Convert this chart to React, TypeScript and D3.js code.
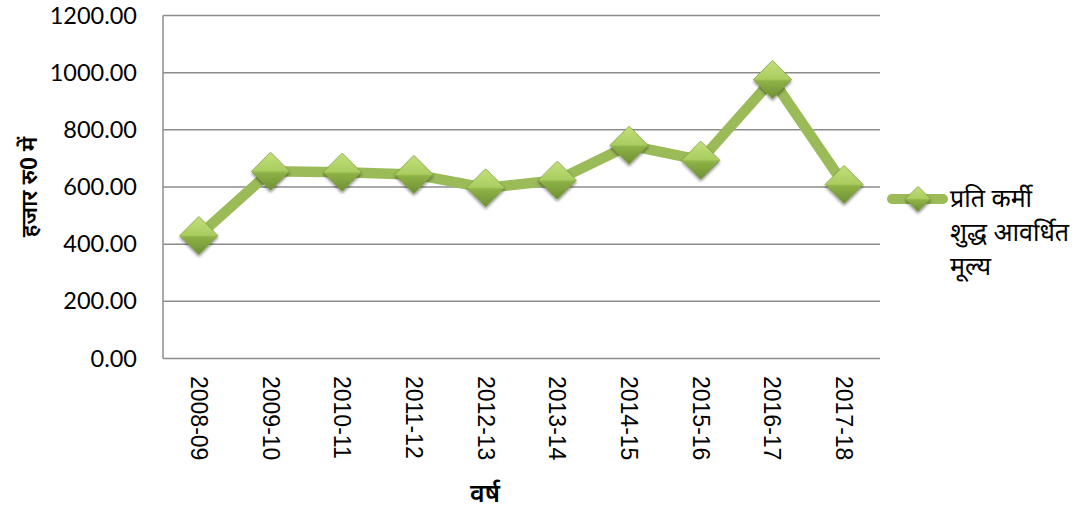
import React from "react";
import * as d3 from "d3";

const categories = ["2008-09", "2009-10", "2010-11", "2011-12", "2012-13", "2013-14", "2014-15", "2015-16", "2016-17", "2017-18"];
const values = [430, 655, 652, 644, 597, 624, 746, 694, 976, 609];
const yTicks = [0, 200, 400, 600, 800, 1000, 1200];
const legendLines = ["प्रति कर्मी", "शुद्ध आवर्धित", "मूल्य"];
const yTitle = "हजार रु0 में";
const xTitle = "वर्ष";

const W = 1085, H = 517;
const left = 163, right = 880, top = 15.5, bottom = 358.5;
const devFont = "'Noto Sans Devanagari', 'Noto Sans', 'Lohit Devanagari', 'Mangal', sans-serif";

function Diamond({ cx, cy, r, id }: { cx: number; cy: number; r: number; id: string }) {
  const path = `M${cx},${cy - r}L${cx + r},${cy}L${cx},${cy + r}L${cx - r},${cy}Z`;
  return (
    <g filter="url(#shadow)">
      <path d={path} fill={`url(#${id})`} stroke="#7b9a3c" strokeWidth={0.8} />
      <path d={`M${cx - r},${cy}L${cx},${cy - r}L${cx + r},${cy}Z`} fill="#c4e07a" opacity={0.35} />
    </g>
  );
}

export default function App() {
  const x = d3.scalePoint<string>().domain(categories).range([left, right]).padding(0.5);
  const y = d3.scaleLinear().domain([0, 1200]).range([bottom, top]);
  const line = d3.line<number>().x((_, i) => x(categories[i])!).y((d) => y(d));

  return (
    <svg width={W} height={H} style={{ position: "absolute", left: 0, top: 0 }}>
      <defs>
        <linearGradient id="dg" x1="0" y1="0" x2="0" y2="1">
          <stop offset="0" stopColor="#c2e07a" />
          <stop offset="0.5" stopColor="#9cc252" />
          <stop offset="0.55" stopColor="#8db146" />
          <stop offset="1" stopColor="#6f8f33" />
        </linearGradient>
        <filter id="shadow" x="-50%" y="-50%" width="200%" height="200%">
          <feGaussianBlur in="SourceAlpha" stdDeviation="1.5" />
          <feOffset dx="0" dy="2" result="b" />
          <feComponentTransfer><feFuncA type="linear" slope="0.45" /></feComponentTransfer>
          <feMerge><feMergeNode /><feMergeNode in="SourceGraphic" /></feMerge>
        </filter>
      </defs>
      <rect width={W} height={H} fill="#fff" />
      {yTicks.map((t) => (
        <g key={t}>
          <line x1={left} x2={right} y1={y(t)} y2={y(t)} stroke="#8c8c8c" strokeWidth={1.5} />
          <text x={137} y={y(t) + 8} textAnchor="end" fontFamily="Lato, 'Open Sans', sans-serif" fontSize={23.5} fill="#000">
            {t.toFixed(2)}
          </text>
        </g>
      ))}
      <line x1={left} x2={left} y1={top} y2={bottom} stroke="#8c8c8c" strokeWidth={1.5} />
      {categories.map((c) => (
        <text key={c} transform={`translate(${x(c)! - 8},376) rotate(90)`} fontFamily="'Liberation Sans', Arimo, Arial, sans-serif" fontSize={23} fill="#000">
          {c}
        </text>
      ))}
      <path d={line(values)!} fill="none" stroke="#9bbb59" strokeWidth={10.5} strokeLinejoin="round" />
      {values.map((v, i) => (
        <Diamond key={i} cx={x(categories[i])!} cy={y(v)} r={19} id="dg" />
      ))}
      <text transform={`translate(37,187) rotate(-90)`} textAnchor="middle" fontFamily={devFont} fontWeight={600} fontSize={23} fill="#000">
        {yTitle}
      </text>
      <text x={485} y={502} textAnchor="middle" fontFamily={devFont} fontWeight={600} fontSize={25} fill="#000">
        {xTitle}
      </text>
      <line x1={892} x2={943} y1={199} y2={199} stroke="#9bbb59" strokeWidth={10} strokeLinecap="round" />
      <Diamond cx={918} cy={199} r={12.5} id="dg" />
      {legendLines.map((l, i) => (
        <text key={i} x={950} y={207 + i * 34} fontFamily={devFont} fontSize={25} fill="#000">
          {l}
        </text>
      ))}
    </svg>
  );
}
